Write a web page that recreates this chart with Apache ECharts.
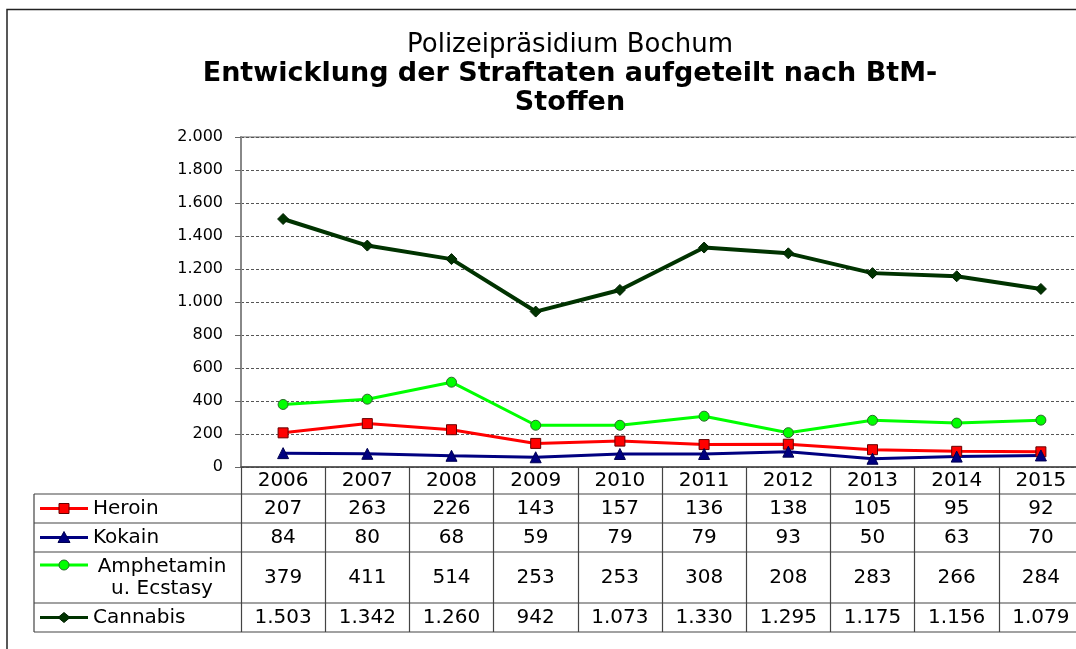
<!DOCTYPE html>
<html>
<head>
<meta charset="utf-8">
<script src="https://cdn.jsdelivr.net/npm/echarts@6/dist/echarts.min.js"></script>
<style>
  html, body { margin: 0; padding: 0; background: #fff; }
  #chart { width: 1076px; height: 649px; }
</style>
</head>
<body>
<div id="chart"></div>
<script>
// BtM-Straftaten Polizeipraesidium Bochum 2006-2015

const years = ['2006', '2007', '2008', '2009', '2010', '2011', '2012', '2013', '2014', '2015'];
const heroin = [207, 263, 226, 143, 157, 136, 138, 105, 95, 92];
const kokain = [84, 80, 68, 59, 79, 79, 93, 50, 63, 70];
const amphetamin = [379, 411, 514, 253, 253, 308, 208, 283, 266, 284];
const cannabis = [1503, 1342, 1260, 942, 1073, 1330, 1295, 1175, 1156, 1079];

const seriesNames = ['Heroin', 'Kokain', 'Amphetamin u. Ecstasy', 'Cannabis'];
const tableLabels = ['Heroin', 'Kokain', 'Amphetamin\nu. Ecstasy', 'Cannabis'];
const seriesData = [heroin, kokain, amphetamin, cannabis];

const FONT = 'DejaVu Sans';

// 1.503 style thousands separator
function fmt(v) {
    return String(v).replace(/\B(?=(\d{3})+(?!\d))/g, '.');
}

const colors = ['#ff0000', '#000080', '#00ff00', '#003300'];
const symbols = ['rect', 'triangle', 'circle', 'diamond'];
const symbolSizes = [10, 11, 10, 11];
const symbolBorders = ['#660000', '#000050', '#2a6a2a', '#002000'];
const lineWidths = [3, 3, 3, 4];

let chartDom = document.getElementById('chart');
let chart = echarts.init(chartDom);

const gridTop = 137;
const gridBottom = 182;   // axis sits at y = 467
const rowHeights = [27, 29, 29, 51, 29];   // year row + 4 data rows

const option = {
    animation: false,
    backgroundColor: '#fff',
    title: [
        {
            text: 'Polizeipräsidium Bochum',
            left: 565,
            top: 27,
            textAlign: 'center',
            textStyle: { fontFamily: FONT, fontSize: 26, fontWeight: 'normal', color: '#000' }
        },
        {
            text: 'Entwicklung der Straftaten aufgeteilt nach BtM-\nStoffen',
            left: 565,
            top: 54,
            textAlign: 'center',
            textStyle: { fontFamily: FONT, fontSize: 27, fontWeight: 'bold', color: '#000', lineHeight: 29 }
        }
    ],
    grid: {
        left: 241,
        width: 842,   // right edge runs past the picture, as in the source
        top: gridTop,
        bottom: gridBottom,
        outerBoundsMode: 'none',
        containLabel: false,
        show: true,
        borderColor: '#999',
        borderWidth: 1.5,
        backgroundColor: 'transparent'
    },
    xAxis: {
        type: 'category',
        data: years,
        boundaryGap: true,
        axisLine: { show: true, lineStyle: { color: '#444', width: 1.5 } },
        axisTick: {
            show: true,
            interval: 0,
            length: 165,
            lineStyle: { color: '#444', width: 1.2 }
        },
        axisLabel: {
            interval: 0,
            margin: 4,
            fontFamily: FONT,
            fontSize: 20,
            color: '#000'
        },
        splitLine: { show: false }
    },
    yAxis: {
        type: 'value',
        min: 0,
        max: 2000,
        interval: 200,
        axisLine: { show: true, lineStyle: { color: '#888', width: 2 } },
        axisTick: { show: true, length: 6, lineStyle: { color: '#666' } },
        axisLabel: {
            margin: 18,
            fontFamily: FONT,
            fontSize: 16,
            color: '#000',
            formatter: v => fmt(v)
        },
        splitLine: {
            show: true,
            lineStyle: { color: '#555', width: 1, type: [3, 2] }
        }
    },
    series: seriesNames.map((name, i) => ({
        name: name,
        type: 'line',
        data: seriesData[i],
        symbol: symbols[i],
        symbolSize: symbolSizes[i],
        lineStyle: { color: colors[i], width: lineWidths[i] },
        itemStyle: { color: colors[i], borderColor: symbolBorders[i], borderWidth: 1 },
        z: i === 3 ? 4 : 3
    }))
};

chart.setOption(option);

// ---- data table below the plot ----
const axisY = 649 - gridBottom;
const tableLeft = 34;
const tableRight = 1076;
const legendLineX = [40, 88];
const legendMarkX = 64;
const labelX = 93;

let graphics = [];

// outer frame (top + left)
graphics.push({
    type: 'polyline',
    shape: { points: [[7, 649], [7, 9.5], [1076, 9.5]] },
    style: { stroke: '#222', lineWidth: 1.5, fill: null },
    silent: true
});

let rowTops = [];
let yAcc = axisY;
rowHeights.forEach(h => { rowTops.push(yAcc); yAcc += h; });
const tableBottom = yAcc;

// horizontal row lines
for (let r = 1; r <= rowHeights.length; r++) {
    const y = r < rowHeights.length ? rowTops[r] : tableBottom;
    graphics.push({
        type: 'line',
        shape: { x1: tableLeft, y1: y, x2: tableRight, y2: y },
        style: { stroke: '#444', lineWidth: 1.2 },
        silent: true
    });
}
// left border of legend column
graphics.push({
    type: 'line',
    shape: { x1: tableLeft, y1: rowTops[1], x2: tableLeft, y2: tableBottom },
    style: { stroke: '#444', lineWidth: 1.2 },
    silent: true
});

function markerShape(i, cx, cy) {
    const fill = colors[i];
    const stroke = symbolBorders[i];
    if (symbols[i] === 'rect') {
        return { type: 'rect', shape: { x: cx - 5, y: cy - 5, width: 10, height: 10 }, style: { fill, stroke, lineWidth: 1 } };
    }
    if (symbols[i] === 'triangle') {
        return { type: 'polygon', shape: { points: [[cx, cy - 6], [cx + 6, cy + 5], [cx - 6, cy + 5]] }, style: { fill, stroke, lineWidth: 1 } };
    }
    if (symbols[i] === 'circle') {
        return { type: 'circle', shape: { cx, cy, r: 5 }, style: { fill, stroke, lineWidth: 1 } };
    }
    return { type: 'polygon', shape: { points: [[cx, cy - 5], [cx + 6, cy], [cx, cy + 5], [cx - 6, cy]] }, style: { fill, stroke, lineWidth: 1 } };
}

seriesNames.forEach((name, i) => {
    const top = rowTops[i + 1];
    const h = rowHeights[i + 1];
    const cy = top + h / 2;
    const twoLine = tableLabels[i].indexOf('\n') >= 0;
    const symY = twoLine ? top + 13 : cy;

    // legend key
    graphics.push({
        type: 'line',
        shape: { x1: legendLineX[0], y1: symY, x2: legendLineX[1], y2: symY },
        style: { stroke: colors[i], lineWidth: 3 },
        silent: true
    });
    const m = markerShape(i, legendMarkX, symY);
    m.silent = true;
    graphics.push(m);

    // legend label
    graphics.push({
        type: 'text',
        x: twoLine ? 162 : labelX,
        y: cy,
        silent: true,
        style: {
            text: tableLabels[i],
            font: '20px "' + FONT + '"',
            fill: '#000',
            align: twoLine ? 'center' : 'left',
            verticalAlign: 'middle',
            textAlign: twoLine ? 'center' : 'left',
            textVerticalAlign: 'middle',
            lineHeight: 22
        }
    });

    // values
    seriesData[i].forEach((v, j) => {
        const px = chart.convertToPixel({ xAxisIndex: 0 }, j);
        graphics.push({
            type: 'text',
            x: px,
            y: cy,
            silent: true,
            style: {
                text: fmt(v),
                font: '20px "' + FONT + '"',
                fill: '#000',
                align: 'center',
                verticalAlign: 'middle',
                textAlign: 'center',
                textVerticalAlign: 'middle'
            }
        });
    });
});

chart.setOption({ graphic: graphics });
</script>
</body>
</html>
